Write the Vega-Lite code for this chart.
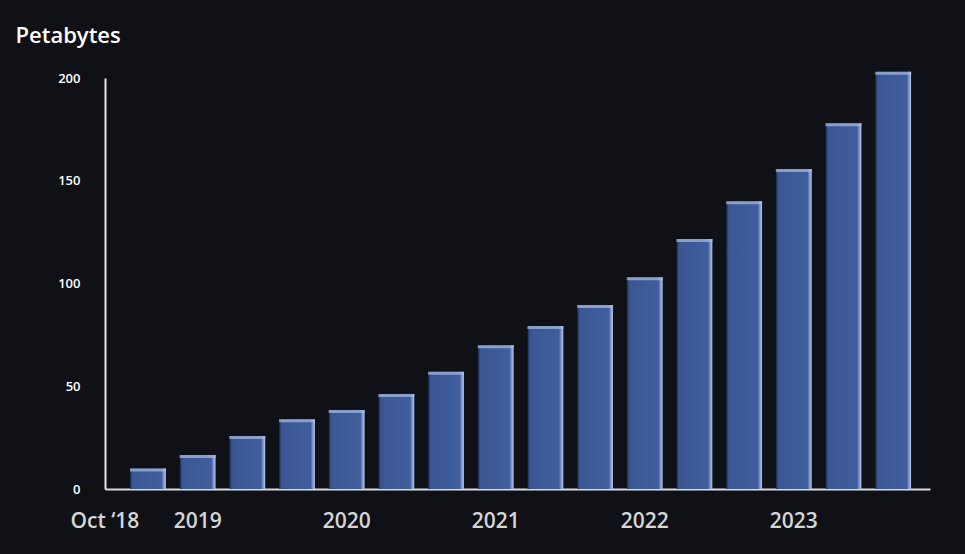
{
  "$schema": "https://vega.github.io/schema/vega-lite/v6.json",
  "width": 825,
  "height": 411,
  "autosize": {"type": "none"},
  "padding": {"left": 105, "top": 78, "right": 35, "bottom": 65},
  "background": "#0f1116",
  "view": {"stroke": null},
  "data": {
    "values": [
      {"period": "Oct 2018", "petabytes": 10},
      {"period": "Jan 2019", "petabytes": 16.5},
      {"period": "May 2019", "petabytes": 25.8},
      {"period": "Sep 2019", "petabytes": 34},
      {"period": "Jan 2020", "petabytes": 38.4},
      {"period": "May 2020", "petabytes": 46.2},
      {"period": "Sep 2020", "petabytes": 57},
      {"period": "Jan 2021", "petabytes": 70},
      {"period": "May 2021", "petabytes": 79.3},
      {"period": "Sep 2021", "petabytes": 89.5},
      {"period": "Jan 2022", "petabytes": 103},
      {"period": "May 2022", "petabytes": 121.7},
      {"period": "Sep 2022", "petabytes": 140},
      {"period": "Jan 2023", "petabytes": 155.7},
      {"period": "May 2023", "petabytes": 178},
      {"period": "Sep 2023", "petabytes": 203}
    ]
  },
  "encoding": {
    "x": {
      "field": "period",
      "type": "ordinal",
      "sort": null,
      "scale": {"paddingInner": 0.28, "paddingOuter": 0.443, "align": 0.57},
      "axis": {
        "title": null,
        "labelAngle": 0,
        "ticks": false,
        "domainColor": "#dcdcdc",
        "domainWidth": 2,
        "labelColor": "#d6d6d6",
        "labelFont": "Open Sans",
        "labelFontSize": 21,
        "labelFontWeight": 600,
        "labelPadding": 21,
        "labelOffset": {"condition": {"test": "datum.value == 'Oct 2018'", "value": -43}, "value": 0},
        "labelExpr": "datum.value == 'Oct 2018' ? 'Oct ‘18' : (indexof(datum.value, 'Jan') == 0 ? slice(datum.value, 4) : '')",
        "labelOverlap": false
      }
    },
    "y": {
      "field": "petabytes",
      "type": "quantitative",
      "scale": {"domain": [0, 200], "nice": false},
      "axis": {
        "title": "Petabytes",
        "titleAngle": 0,
        "titleAlign": "left",
        "titleBaseline": "middle",
        "titleX": -90,
        "titleY": -43,
        "titleColor": "#ffffff",
        "titleFont": "Open Sans",
        "titleFontSize": 22,
        "titleFontWeight": 600,
        "values": [0, 50, 100, 150, 200],
        "grid": false,
        "ticks": false,
        "domainColor": "#e6e6e6",
        "domainWidth": 2,
        "labelColor": "#ffffff",
        "labelFont": "Open Sans",
        "labelFontSize": 13,
        "labelFontWeight": 600,
        "labelPadding": 25
      }
    }
  },
  "layer": [
    {
      "mark": {
        "type": "bar",
        "color": {
          "gradient": "linear",
          "x1": 0, "x2": 1, "y1": 0, "y2": 0,
          "stops": [
            {"offset": 0, "color": "#1c2b50"},
            {"offset": 0.07, "color": "#3a5792"},
            {"offset": 0.88, "color": "#405e9d"},
            {"offset": 0.94, "color": "#8198cc"},
            {"offset": 1, "color": "#b5c5ec"}
          ]
        }
      }
    },
    {
      "mark": {"type": "tick", "color": "#a9bce6", "thickness": 3, "size": 36, "yOffset": 1.5}
    }
  ]
}
